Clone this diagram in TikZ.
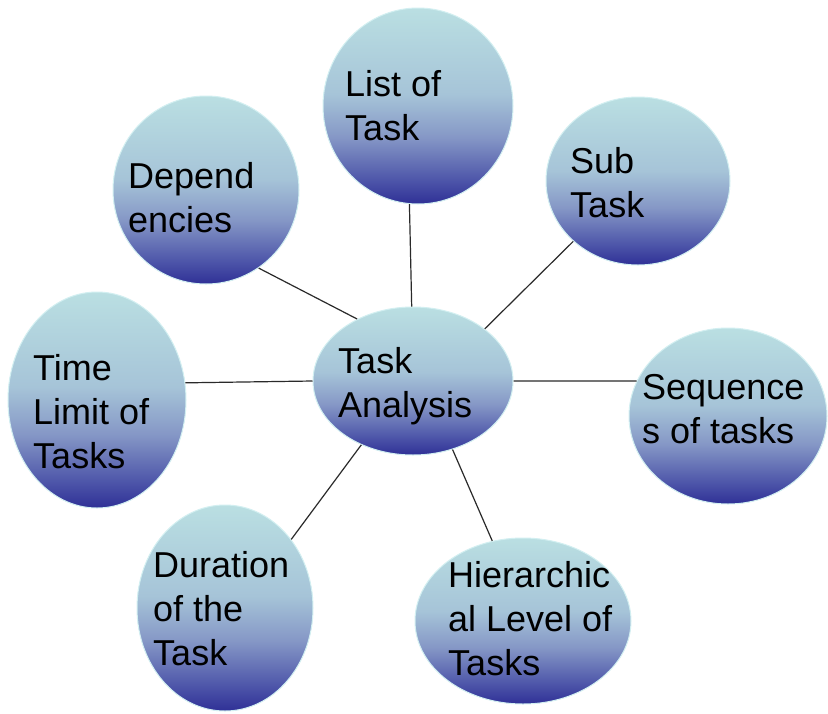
\documentclass[tikz,border=0pt]{standalone}
\usepackage{fontspec}
\setmainfont{Liberation Sans}
\usetikzlibrary{shapes.geometric}
\definecolor{cdark}{HTML}{2F3096}
\definecolor{cdeep}{HTML}{4D55A9}
\definecolor{cmid}{HTML}{8597C6}
\definecolor{cpale}{HTML}{A6C4D8}
\definecolor{clight}{HTML}{BADFE2}
\definecolor{rimc}{HTML}{D2EFF1}
\definecolor{linec}{HTML}{2A2A2A}
\pgfdeclareverticalshading{bubbleshade}{100bp}{color(0bp)=(cdark); color(25bp)=(cdark); color(31bp)=(cdeep); color(42bp)=(cmid); color(53bp)=(cpale); color(75bp)=(clight); color(100bp)=(clight)}
\tikzset{
  bubble/.style={ellipse, inner sep=0pt, draw=rimc, line width=1pt, shade, shading=bubbleshade},
  label/.style={anchor=base west, align=left, inner sep=0pt, font=\fontsize{36}{44}\selectfont, text=black},
  link/.style={draw=linec, line width=1.2pt}
}
\begin{document}
\begin{tikzpicture}[x=1pt,y=-1pt]
\fill[white] (0,0) rectangle (828,713);
\useasboundingbox (0,0) rectangle (828,713);
% bubbles
\node[bubble, minimum width=190pt, minimum height=196pt] (list) at (418,106) {};
\node[bubble, minimum width=184pt, minimum height=168pt] (sub)  at (638,181) {};
\node[bubble, minimum width=186pt, minimum height=188pt] (dep)  at (206,190) {};
\node[bubble, minimum width=178pt, minimum height=216pt] (time) at (97,400) {};
\node[bubble, minimum width=200pt, minimum height=148pt] (task) at (413,381) {};
\node[bubble, minimum width=198pt, minimum height=176pt] (seq)  at (728,416) {};
\node[bubble, minimum width=176pt, minimum height=206pt] (dur)  at (225,608) {};
\node[bubble, minimum width=216pt, minimum height=166pt] (hier) at (523,621) {};
% connectors
\draw[link] (list.265.9) -- (task.91.5);
\draw[link] (sub.223.6) -- (task.36);
\draw[link] (dep.304.7) -- (task.132);
\draw[link] (time.11.6) -- (task.180);
\draw[link] (task.0) -- (seq.159.7);
\draw[link] (task.231.6) -- (dur.46);
\draw[link] (task.300.6) -- (hier.111.4);
% texts (anchor = baseline of the last line)
\node[label] (listT) at (345,140) {List of\\Task};
\node[label] (subT)  at (570,217) {Sub\\Task};
\node[label] (depT)  at (128,232) {Depend\\encies};
\node[label] (timeT) at (33,468)  {Time\\Limit of\\Tasks};
\node[label] (taskT) at (338,417) {Task\\Analysis};
\node[label] (seqT)  at (642,443) {Sequence\\s of tasks};
\node[label] (durT)  at (153,665) {Duration\\of the\\Task};
\node[label] (hierT) at (448,675) {Hierarchic\\al Level of\\Tasks};
\end{tikzpicture}
\end{document}
